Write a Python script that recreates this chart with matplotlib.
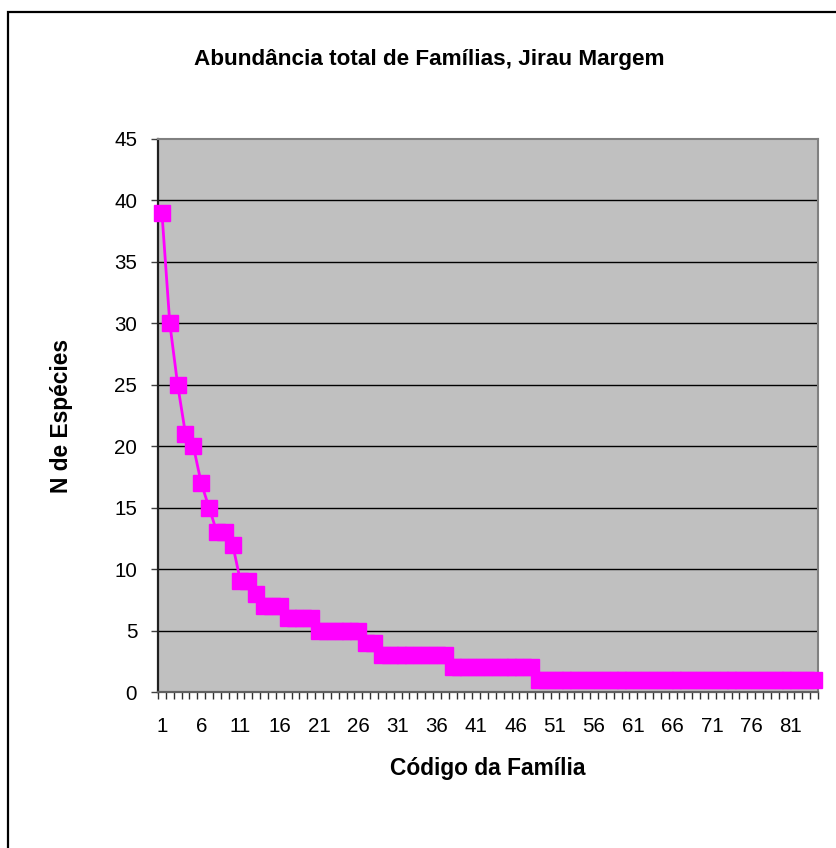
import matplotlib
matplotlib.use("Agg")
import matplotlib.pyplot as plt
from matplotlib.patches import Rectangle
from matplotlib.ticker import FixedLocator, NullFormatter

plt.rcParams['font.family'] = ['Liberation Sans', 'DejaVu Sans']

# Number of species per family code, ranked by abundance
codigos = list(range(1, 85))
n_especies = ([39, 30, 25, 21, 20, 17, 15, 13, 13, 12, 9, 9, 8]
              + [7] * 3 + [6] * 4 + [5] * 6 + [4] * 2 + [3] * 9
              + [2] * 11 + [1] * 36)
y_ticks = list(range(0, 46, 5))
x_labels = list(range(1, 85, 5))

titulo = "Abundância total de Famílias, Jirau Margem"
rotulo_x = "Código da Família"
rotulo_y = "N de Espécies"

W, H = 837, 848
fig = plt.figure(figsize=(W / 100, H / 100), dpi=100)
fig.patch.set_facecolor("white")

# Outer chart-area border
fig.patches.append(Rectangle((8 / W, -0.1), 1.2, 1 - 12 / H + 0.1,
                             transform=fig.transFigure, fill=False,
                             edgecolor="black", linewidth=1.6))

ax = fig.add_axes([158 / W, 1 - 692 / H, (818 - 158) / W, (692 - 139) / H])
ax.set_facecolor("#C0C0C0")

for y in y_ticks[1:-1]:
    ax.axhline(y, color="black", linewidth=1.0, zorder=1)

ax.plot(codigos, n_especies, color="#FF00FF", linewidth=2.0,
        marker="s", markersize=11.5, markerfacecolor="#FF00FF",
        markeredgecolor="#FF00FF", clip_on=False, zorder=3)

ax.set_xlim(0.5, 84.5)
ax.set_ylim(0, 45)

for side in ("top", "right"):
    ax.spines[side].set_color("#808080")
    ax.spines[side].set_linewidth(1.5)
ax.spines["left"].set_color("#202020")
ax.spines["left"].set_linewidth(1.6)
ax.spines["bottom"].set_color("#606060")
ax.spines["bottom"].set_linewidth(1.6)

ax.set_yticks(y_ticks)
ax.set_yticklabels([str(v) for v in y_ticks], fontsize=14.8)
ax.tick_params(axis="y", direction="out", length=5, width=1.0,
               color="#404040", pad=10)

ax.set_xticks(x_labels)
ax.set_xticklabels([str(v) for v in x_labels], fontsize=14.8)
ax.xaxis.set_minor_locator(FixedLocator([k + 0.5 for k in range(0, 85)]))
ax.xaxis.set_minor_formatter(NullFormatter())
ax.tick_params(axis="x", which="major", length=0, pad=18)
ax.tick_params(axis="x", which="minor", direction="out", length=5,
               width=1.0, color="#303030")

fig.text(429 / W, 1 - 60 / H, titulo, ha="center", va="center",
         fontsize=16.2, fontweight="bold")
fig.text(488 / W, 1 - 768 / H, rotulo_x, ha="center", va="center",
         fontsize=16.4, fontweight="bold")
fig.text(62 / W, 1 - 416 / H, rotulo_y, ha="center", va="center",
         rotation=90, fontsize=16.4, fontweight="bold")

fig.savefig("out.png", dpi=100, facecolor="white")
